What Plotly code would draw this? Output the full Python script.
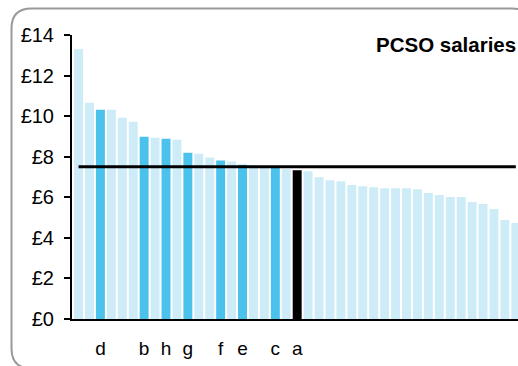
import plotly.graph_objects as go

# Hourly PCSO salaries by force, sorted high to low
salaries = [
    13.31, 10.66, 10.31, 10.31, 9.92, 9.72, 8.99, 8.94, 8.89, 8.84,
    8.20, 8.15, 7.96, 7.81, 7.76, 7.61, 7.58, 7.55, 7.52, 7.38,
    7.33, 7.28, 6.99, 6.84, 6.79, 6.60, 6.55, 6.50, 6.45, 6.45,
    6.45, 6.40, 6.21, 6.11, 6.01, 6.01, 5.77, 5.67, 5.42, 4.88, 4.73,
]
highlight_positions = [2, 6, 8, 10, 13, 15, 18, 20]
highlight_labels = ["d", "b", "h", "g", "f", "e", "c", "a"]
selected_label = "a"
average_salary = 7.5

y_ticks = [0, 2, 4, 6, 8, 10, 12, 14]

LIGHT = "#cdecf8"
DARK = "#4ac2ec"

W, H = 518, 366
ML, MR, MT, MB = 72, 0, 35, 46.5
PW, PH = W - ML - MR, H - MT - MB

x = list(range(len(salaries)))
colors = [LIGHT] * len(salaries)
for pos, lab in zip(highlight_positions, highlight_labels):
    colors[pos] = "black" if lab == selected_label else DARK

fig = go.Figure()
fig.add_trace(go.Bar(x=x, y=salaries, marker=dict(color=colors, line_width=0)))

# average line, from the first bar to the last
fig.add_trace(
    go.Scatter(
        x=[x[0], x[-1]],
        y=[average_salary, average_salary],
        mode="lines",
        line=dict(color="black", width=3),
    )
)


def px_to_paper(px, py):
    return (px - ML) / PW, (H - MB - py) / PH


# rounded grey frame around the chart
left, top, right, bottom, r = 11.5, 8.5, 532, 369, 20
pts = [
    ("M", left + r, top), ("L", right - r, top), ("Q", right, top, right, top + r),
    ("L", right, bottom - r), ("Q", right, bottom, right - r, bottom),
    ("L", left + r, bottom), ("Q", left, bottom, left, bottom - r),
    ("L", left, top + r), ("Q", left, top, left + r, top),
]
path = ""
for p in pts:
    cmd, coords = p[0], p[1:]
    conv = []
    for i in range(0, len(coords), 2):
        a, b = px_to_paper(coords[i], coords[i + 1])
        conv.append(f"{a:.5f},{b:.5f}")
    path += cmd + " ".join(conv) + " "
path += "Z"

fig.add_shape(
    type="path", path=path, xref="paper", yref="paper",
    line=dict(color="#9a9a9a", width=2), layer="below",
)

fig.add_annotation(
    text="<b>PCSO salaries</b>", xref="paper", yref="paper",
    x=px_to_paper(518, 0)[0], y=px_to_paper(0, 44.5)[1],
    xanchor="right", yanchor="middle",
    showarrow=False, font=dict(size=20.5, color="black"),
)

fig.update_xaxes(
    range=[-0.6, 40.2],
    tickvals=highlight_positions,
    ticktext=highlight_labels,
    ticks="",
    ticklabelstandoff=11,
    tickfont=dict(size=19, color="black"),
    showline=True, linecolor="black", linewidth=2,
    showgrid=False, zeroline=False, automargin=False,
)
fig.update_yaxes(
    range=[0, 14],
    tickvals=y_ticks,
    ticktext=[f"£{v}" for v in y_ticks],
    ticks="outside", ticklen=6, tickwidth=1.5, tickcolor="black",
    ticklabelstandoff=6,
    tickfont=dict(size=20, color="black"),
    showline=True, linecolor="black", linewidth=2,
    showgrid=False, zeroline=False, automargin=False,
)

fig.update_layout(
    width=W, height=H,
    margin=dict(l=ML, r=MR, t=MT, b=MB, autoexpand=False),
    bargap=0.18,
    showlegend=False,
    plot_bgcolor="white", paper_bgcolor="white",
    font=dict(family="Liberation Sans, Arial, sans-serif", color="black"),
)

# drop the page's default body margin so the figure fills the window
fig.write_html(
    "out.html",
    config={"displayModeBar": False},
    post_script="document.body.style.margin='0';document.body.style.overflow='hidden';",
)
